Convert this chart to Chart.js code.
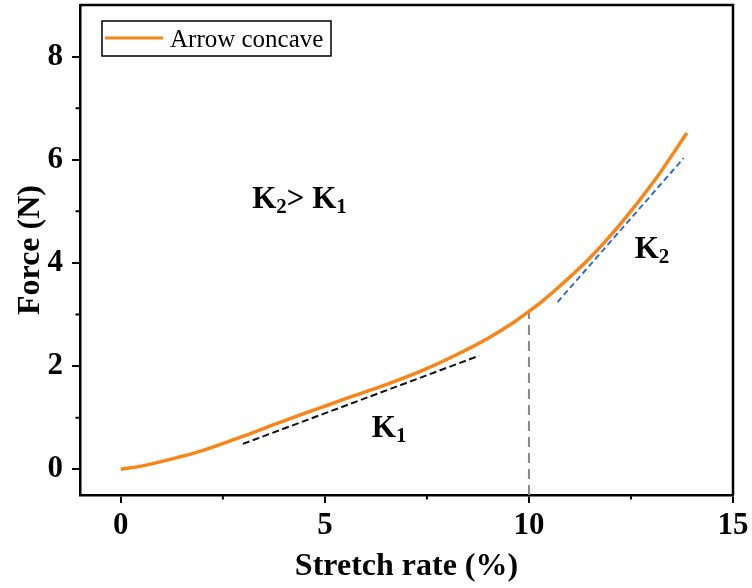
<!DOCTYPE html>
<html><head><meta charset="utf-8">
<script src="https://cdn.jsdelivr.net/npm/chart.js@4/dist/chart.umd.min.js"></script>
<style>html,body{margin:0;padding:0;background:#fff}#wrap{width:752px;height:588px}</style>
</head><body><div id="wrap"><canvas id="c" width="752" height="588"></canvas></div>
<script>
// ---- data ----
const stretchRate = [0, 0.5, 1.35, 2.0, 3.0, 3.8, 4.6, 5.1, 5.7, 6.5, 7.35, 8.15, 9.0, 9.65, 10.0, 10.3, 10.6, 11.45, 12.25, 13.1, 13.87];
const force       = [0, 0.06, 0.22, 0.36, 0.64, 0.88, 1.11, 1.25, 1.42, 1.64, 1.90, 2.19, 2.54, 2.86, 3.06, 3.24, 3.44, 4.06, 4.76, 5.62, 6.52];
const k1FitX = [2.99, 8.78];
const k1FitY = [0.49, 2.20];
const k2FitX = [10.7, 13.79];
const k2FitY = [3.24, 6.03];
const markerX = [10, 10];
const markerY = [-0.5, 3.06];
const xTicks = [0, 5, 10, 15];
const yTicks = [0, 2, 4, 6, 8];
const xMinorTicks = [2.5, 7.5, 12.5];
const yMinorTicks = [1, 3, 5, 7];
const seriesLabel = 'Arrow concave';
const xTitle = 'Stretch rate (%)';
const yTitle = 'Force (N)';
// annotation texts: [x, y, parts]
const notes = [
  {x: 3.22, y: 5.07, parts: [['K', 0], ['2', 1], ['> ', 0], ['K', 0], ['1', 1]]},
  {x: 6.15, y: 0.62, parts: [['K', 0], ['1', 1]]},
  {x: 12.59, y: 4.10, parts: [['K', 0], ['2', 1]]}
];

const SERIF = '"Liberation Serif", "Times New Roman", serif';
const ORANGE = '#F98518';

const toPts = (xs, ys) => xs.map((x, i) => ({x, y: ys[i]}));

const extras = {
  id: 'extras',
  afterDatasetsDraw(chart) {
    const {ctx, chartArea: a, scales: {x, y}} = chart;
    ctx.save();
    // frame top/right
    ctx.strokeStyle = '#000';
    ctx.lineWidth = 2.5;
    ctx.beginPath();
    ctx.moveTo(a.left, a.top); ctx.lineTo(a.right, a.top); ctx.lineTo(a.right, a.bottom);
    ctx.stroke();
    // minor ticks
    ctx.lineWidth = 2;
    ctx.beginPath();
    xMinorTicks.forEach(v => { const px = x.getPixelForValue(v); ctx.moveTo(px, a.bottom); ctx.lineTo(px, a.bottom + 4.5); });
    yMinorTicks.forEach(v => { const py = y.getPixelForValue(v); ctx.moveTo(a.left, py); ctx.lineTo(a.left - 4.5, py); });
    ctx.stroke();
    // annotations
    ctx.fillStyle = '#000';
    ctx.textBaseline = 'alphabetic';
    notes.forEach(n => {
      let px = x.getPixelForValue(n.x);
      const py = y.getPixelForValue(n.y);
      n.parts.forEach(([t, sub]) => {
        ctx.font = sub ? 'bold 21px ' + SERIF : 'bold 31px ' + SERIF;
        ctx.fillText(t, px, py + (sub ? 5 : 0));
        px += ctx.measureText(t).width;
      });
    });
    // legend
    const ds = chart.data.datasets[0];
    const lx = a.left + 22, ly = a.top + 16;
    ctx.lineWidth = 1.5;
    ctx.strokeStyle = '#000';
    ctx.strokeRect(lx, ly, 229, 35);
    ctx.strokeStyle = ds.borderColor;
    ctx.lineWidth = 3;
    ctx.beginPath(); ctx.moveTo(lx + 3, ly + 17); ctx.lineTo(lx + 61, ly + 17); ctx.stroke();
    ctx.font = '25px ' + SERIF;
    ctx.fillStyle = '#000';
    ctx.fillText(ds.label, lx + 68, ly + 26);
    ctx.restore();
  }
};

new Chart(document.getElementById('c'), {
  type: 'scatter',
  data: {
    datasets: [
      {label: seriesLabel, data: toPts(stretchRate, force), showLine: true, borderColor: ORANGE, backgroundColor: ORANGE,
       borderWidth: 3.5, pointRadius: 0, cubicInterpolationMode: 'monotone', order: 1},
      {label: 'K1', data: toPts(k1FitX, k1FitY), showLine: true, borderColor: '#111', borderWidth: 2, borderDash: [7, 3.5], pointRadius: 0, order: 2},
      {label: 'K2', data: toPts(k2FitX, k2FitY), showLine: true, borderColor: '#2D6ED3', borderWidth: 2, borderDash: [6, 3.5], pointRadius: 0, order: 2},
      {label: 'mark', data: toPts(markerX, markerY), showLine: true, borderColor: '#888', borderWidth: 2, borderDash: [10, 6], pointRadius: 0, order: 3}
    ]
  },
  options: {
    responsive: false,
    animation: false,
    layout: {padding: {left: 0, top: 5, right: 19, bottom: 0}},
    plugins: {legend: {display: false}, tooltip: {enabled: false}},
    scales: {
      x: {
        type: 'linear', min: -1, max: 15,
        afterBuildTicks: s => { s.ticks = xTicks.map(v => ({value: v})); },
        afterFit: s => { s.height = 93; s.paddingLeft = 0; s.paddingRight = 0; },
        grid: {drawOnChartArea: false, drawTicks: true, tickLength: 8, color: '#000', lineWidth: 2},
        border: {display: true, color: '#000', width: 2.5},
        ticks: {color: '#000', font: {family: SERIF, size: 31, weight: 'bold'}, padding: 4, maxRotation: 0},
        title: {display: true, text: xTitle, color: '#000', font: {family: SERIF, size: 32, weight: 'bold'}, padding: {top: 0, bottom: 2}}
      },
      y: {
        type: 'linear', min: -0.5, max: 9,
        afterBuildTicks: s => { s.ticks = yTicks.map(v => ({value: v})); },
        afterFit: s => { s.width = 80; s.paddingTop = 0; s.paddingBottom = 0; },
        grid: {drawOnChartArea: false, drawTicks: true, tickLength: 8, color: '#000', lineWidth: 2},
        border: {display: true, color: '#000', width: 2.5},
        ticks: {color: '#000', font: {family: SERIF, size: 31, weight: 'bold'}, padding: 9},
        title: {display: true, text: yTitle, color: '#000', font: {family: SERIF, size: 32, weight: 'bold'}, padding: {top: 12, bottom: 0}}
      }
    }
  },
  plugins: [extras]
});
</script>
</body></html>
